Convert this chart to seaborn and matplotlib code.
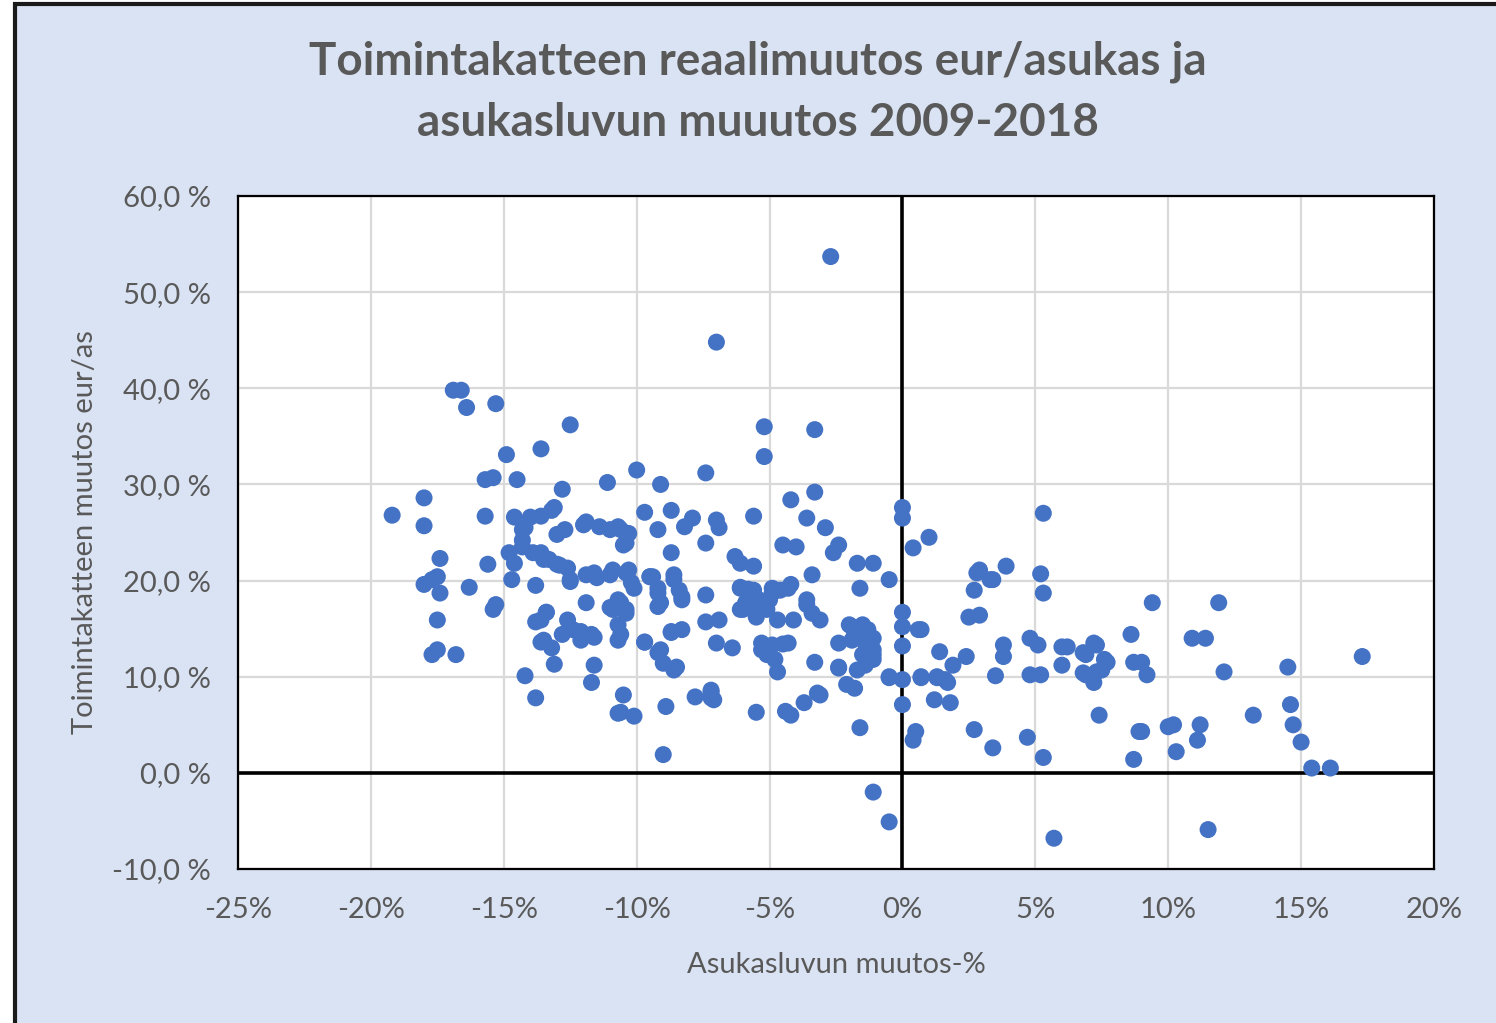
import numpy as np
import pandas as pd
import matplotlib
matplotlib.use("Agg")
import matplotlib.pyplot as plt
from matplotlib.patches import Rectangle
from matplotlib.ticker import FuncFormatter, MultipleLocator
import seaborn as sns

# Asukasluvun muutos-% (x) ja toimintakatteen reaalimuutos eur/as (y), luettu kuvasta
pop_change = [
    -19.2, -18.0, -18.0, -18.0, -17.7, -17.5, -17.4, -17.4, -17.5, -17.7, -17.5, -16.8,
    -16.9, -16.6, -16.4, -15.3, -16.3, -15.7, -15.4, -15.7, -15.6, -15.4, -15.3, -14.9,
    -14.8, -14.7, -14.5, -14.6, -14.3, -14.2, -14.2, -13.8, -13.8, -13.6, -13.6, -13.2,
    -13.6, -13.3, -13.0, -13.6, -13.4, -13.5, -13.2, -13.1, -12.8, -12.5, -13.0, -12.7,
    -12.6, -12.5, -12.6, -12.8, -12.4, -12.1, -12.0, -11.9, -11.9, -11.7, -11.6, -11.7,
    -11.5, -11.4, -11.1, -11.0, -11.0, -11.0, -10.7, -10.7, -10.7, -10.6, -10.5, -10.4,
    -10.5, -10.6, -10.3, -10.4, -10.2, -10.1, -10.0, -9.7, -9.7, -9.5, -9.2, -9.1,
    -9.2, -9.1, -9.1, -9.0, -9.0, -8.9, -8.7, -8.7, -8.6, -8.7, -8.5, -8.4,
    -8.3, -8.2, -8.3, -7.9, -7.8, -7.4, -7.4, -7.4, -7.4, -7.2, -7.2, -7.0,
    -7.0, -6.9, -7.0, -6.9, -6.4, -6.3, -6.1, -6.1, -6.1, -5.9, -5.8, -5.6,
    -5.6, -5.6, -5.5, -5.5, -5.4, -5.3, -5.2, -5.2, -5.1, -5.1, -5.0, -4.9,
    -4.8, -4.7, -4.7, -4.6, -4.5, -4.5, -4.4, -4.2, -4.2, -4.2, -4.1, -4.0,
    -3.7, -3.6, -3.6, -3.4, -3.4, -3.3, -3.3, -3.3, -3.2, -3.1, -2.9, -2.7,
    -2.6, -2.4, -2.4, -2.4, -2.1, -2.0, -1.9, -1.8, -1.8, -1.7, -1.6, -1.6,
    -1.5, -1.5, -1.4, -1.4, -1.2, -1.1, -1.1, -1.1, -1.1, -0.5, -0.5, -0.5,
    0.0, 0.0, 0.0, 0.0, 0.0, 0.0, 0.0, 0.4, 0.4, 0.5, 0.6, 1.0,
    0.7, 1.2, 1.3, 1.4, 1.6, 1.8, 1.9, 2.4, 2.5, 2.7, 2.7, 2.8,
    2.9, 3.3, 3.4, 3.5, 3.9, 3.8, 3.8, 4.7, 4.8, 4.8, 5.1, 5.2,
    5.3, 5.2, 5.3, 5.3, 5.7, 6.0, 6.0, 6.2, 6.9, 6.9, 7.2, 7.3,
    7.3, 7.4, 7.6, 8.6, 8.7, 8.7, 8.9, 9.2, 9.4, 10.2, 10.3, 10.9,
    11.2, 11.1, 11.4, 11.5, 11.9, 12.1, 13.2, 14.5, 14.6, 14.7, 15.0, 15.4,
    16.1, 17.3,
    -13.4, -13.8, -13.6, -12.1, -11.6, -10.9, -10.6, -10.4, -10.6, -10.7, -10.1, -9.5,
    -14.0, -13.1, -14.3, -14.3, -11.9, -10.7, -10.4, -13.5, -12.9, -11.6, -10.9, -10.3,
    -14.6, -13.9, -12.5, -9.4, -8.6, -9.2, -8.3, -9.2, -6.1, -5.6, -6.0, -4.9,
    -4.3, -3.6, -8.7, -9.7, -9.2, -8.6, -5.3, -4.9, -4.3, -1.9, -1.3, -1.1,
    -1.1, -1.7, -2.4, 0.7, 0.7, 1.3, 1.7, -0.5, -7.2, -7.1, -3.1, 3.4,
    2.9, 6.8, 7.2, 7.5, 7.7, 6.8, 9.0, 10.0, 9.0,
]
cost_change = [
    26.8, 28.6, 25.7, 19.6, 20.1, 20.4, 22.3, 18.7, 15.9, 12.3, 12.8, 12.3,
    39.8, 39.8, 38.0, 38.4, 19.3, 30.5, 30.7, 26.7, 21.7, 17.0, 17.5, 33.1,
    22.9, 20.1, 30.5, 26.6, 24.2, 25.5, 10.1, 7.8, 19.5, 33.7, 26.7, 27.3,
    22.9, 22.2, 21.7, 15.9, 16.7, 13.8, 13.0, 11.3, 29.5, 36.2, 24.8, 25.3,
    21.3, 20.1, 15.9, 14.4, 14.9, 14.7, 25.8, 20.6, 17.7, 14.4, 11.2, 9.4,
    20.3, 25.6, 30.2, 25.3, 20.6, 17.2, 18.0, 15.4, 13.8, 25.3, 23.7, 20.8,
    8.1, 6.3, 24.9, 17.0, 19.8, 5.9, 31.5, 27.1, 13.6, 20.4, 19.2, 30.0,
    25.3, 17.7, 12.8, 11.4, 1.9, 6.9, 22.9, 27.3, 20.1, 14.6, 11.0, 19.0,
    18.0, 25.6, 14.9, 26.5, 7.9, 31.2, 23.9, 18.5, 15.7, 8.6, 7.8, 44.8,
    26.3, 25.5, 13.5, 15.9, 13.0, 22.5, 21.8, 19.3, 17.0, 17.7, 19.1, 26.7,
    21.5, 17.0, 6.3, 16.2, 18.0, 13.5, 36.0, 32.9, 12.3, 17.0, 18.0, 19.2,
    11.8, 10.5, 15.9, 19.0, 13.4, 23.7, 6.4, 6.0, 28.4, 19.6, 15.9, 23.5,
    7.3, 26.5, 17.5, 16.6, 20.6, 35.7, 29.2, 11.5, 8.3, 15.9, 25.5, 53.7,
    22.9, 23.7, 10.9, 13.5, 9.2, 15.4, 13.8, 8.8, 14.6, 21.8, 19.2, 4.7,
    12.3, 15.4, 13.5, 11.2, 13.1, 21.8, -2.0, 12.3, 14.0, 20.1, 10.0, -5.1,
    27.6, 26.5, 16.7, 15.2, 13.2, 9.7, 7.1, 23.4, 3.4, 4.3, 14.9, 24.5,
    10.0, 7.6, 10.0, 12.6, 9.7, 7.3, 11.2, 12.1, 16.2, 19.0, 4.5, 20.8,
    16.4, 20.1, 2.6, 10.1, 21.5, 13.3, 12.1, 3.7, 14.0, 10.2, 13.3, 10.2,
    27.0, 20.7, 18.7, 1.6, -6.8, 13.1, 11.2, 13.1, 12.3, 10.2, 9.4, 13.3,
    10.5, 6.0, 11.8, 14.4, 1.4, 11.5, 4.3, 10.2, 17.7, 5.0, 2.2, 14.0,
    5.0, 3.4, 14.0, -5.9, 17.7, 10.5, 6.0, 11.0, 7.1, 5.0, 3.2, 0.5,
    0.5, 12.1,
    16.7, 15.7, 13.6, 13.8, 14.1, 17.0, 17.7, 16.6, 14.4, 6.2, 19.2, 20.4,
    26.6, 27.6, 25.3, 23.5, 26.1, 25.6, 23.9, 22.2, 21.6, 20.8, 21.1, 21.1,
    21.8, 22.9, 19.9, 20.4, 20.6, 18.7, 18.3, 17.3, 19.2, 19.0, 17.0, 18.7,
    19.2, 18.0, 14.7, 13.6, 12.5, 10.7, 12.8, 13.3, 13.5, 15.2, 14.9, 12.8,
    11.8, 10.7, 11.0, 14.9, 9.9, 9.9, 9.4, 9.9, 8.4, 7.6, 8.1, 20.1,
    21.1, 12.5, 13.5, 10.7, 11.5, 10.4, 11.5, 4.8, 4.3,
]

x_ticks = [-25, -20, -15, -10, -5, 0, 5, 10, 15, 20]
y_ticks = [-10, 0, 10, 20, 30, 40, 50, 60]

title_lines = ["Toimintakatteen reaalimuutos eur/asukas ja",
               "asukasluvun muuutos 2009-2018"]
x_label = "Asukasluvun muutos-%"
y_label = "Toimintakatteen muutos eur/as"

df = pd.DataFrame({"pop": pop_change, "cost": cost_change})

sns.set_theme(style="white")
plt.rcParams["font.family"] = ["Lato", "DejaVu Sans"]

text_grey = "#595959"
bg = "#DAE3F3"

fig = plt.figure(figsize=(14.96, 10.23), dpi=100)
fig.patch.set_facecolor("white")
fig.add_artist(Rectangle((15 / 1496, -0.02), 1.0, 1 - 4 / 1023 + 0.02,
                         transform=fig.transFigure, facecolor=bg,
                         edgecolor="#1a1a1a", linewidth=3, zorder=-10))

ax = fig.add_axes([238 / 1496, 1 - 869 / 1023, (1434 - 238) / 1496, (869 - 196) / 1023])
ax.set_facecolor("white")

ax.set_xlim(-25, 20)
ax.set_ylim(-10, 60)
ax.xaxis.set_major_locator(MultipleLocator(5))
ax.yaxis.set_major_locator(MultipleLocator(10))
ax.grid(True, color="#D9D9D9", linewidth=1.6, zorder=0)
ax.set_axisbelow(True)

ax.axhline(0, color="black", linewidth=2.6, zorder=1)
ax.axvline(0, color="black", linewidth=2.6, zorder=1)

sns.scatterplot(data=df, x="pop", y="cost", ax=ax, color="#4472C4",
                s=150, edgecolor="none", linewidth=0, zorder=3)

ax.set_xticks(x_ticks)
ax.set_yticks(y_ticks)
ax.xaxis.set_major_formatter(FuncFormatter(lambda v, p: f"{v:.0f}%"))
ax.yaxis.set_major_formatter(FuncFormatter(lambda v, p: f"{v:.1f} %".replace(".", ",")))
ax.tick_params(axis="both", length=0, labelsize=21, labelcolor=text_grey)
ax.tick_params(axis="x", pad=20)
ax.tick_params(axis="y", pad=19.5)
ax.set_xlabel("")
ax.set_ylabel("")

for side in ["top", "bottom", "left", "right"]:
    ax.spines[side].set_visible(True)
    ax.spines[side].set_color("black")
    ax.spines[side].set_linewidth(1.6)

fig.text(758 / 1496, 1 - 62 / 1023, title_lines[0], ha="center", va="center",
         fontsize=33, fontweight="bold", color=text_grey)
fig.text(758 / 1496, 1 - 123 / 1023, title_lines[1], ha="center", va="center",
         fontsize=33, fontweight="bold", color=text_grey)
fig.text(836 / 1496, 1 - 965 / 1023, x_label, ha="center", va="center",
         fontsize=21, color=text_grey)
fig.text(85 / 1496, 1 - 532 / 1023, y_label, ha="center", va="center",
         rotation=90, fontsize=21, color=text_grey)

fig.savefig("out.png", dpi=100, facecolor=fig.get_facecolor())
